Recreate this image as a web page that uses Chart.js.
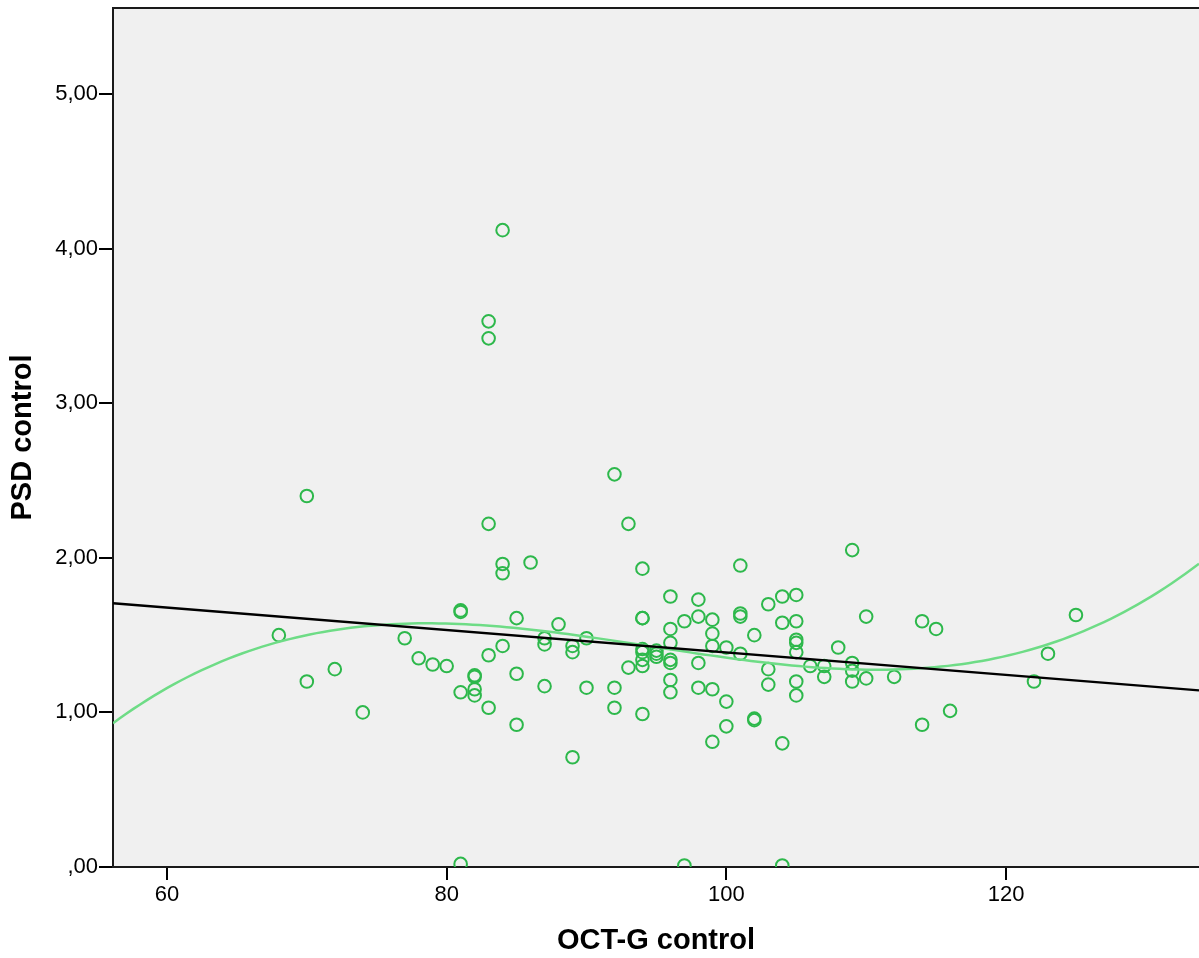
<!DOCTYPE html>
<html>
<head>
<meta charset="utf-8">
<title>PSD control vs OCT-G control</title>
<script src="https://cdn.jsdelivr.net/npm/chart.js@4/dist/chart.umd.min.js"></script>
<style>
  html, body { margin: 0; padding: 0; background: #ffffff; }
  #wrap { width: 1199px; height: 958px; }
</style>
</head>
<body>
<div id="wrap"><canvas id="chart" width="1199" height="958"></canvas></div>
<script>
// Observations: OCT-G control (x) and PSD control (y), paired by index
const octG = [
  68, 70, 70, 72, 74, 77, 78, 79, 80,
  81, 81, 81, 81,
  82, 82, 82, 82,
  83, 83, 83, 83, 83,
  84, 84, 84, 84,
  85, 85, 85,
  86,
  87, 87, 87,
  88,
  89, 89, 89,
  90, 90,
  92, 92, 92,
  93, 93,
  94, 94, 94, 94, 94, 94, 94, 94,
  95, 95, 95,
  96, 96, 96, 96, 96, 96, 96,
  97, 97,
  98, 98, 98, 98,
  99, 99, 99, 99, 99,
  100, 100, 100,
  101, 101, 101, 101,
  102, 102, 102,
  103, 103, 103,
  104, 104, 104, 104,
  105, 105, 105, 105, 105, 105, 105,
  106,
  107, 107,
  108,
  109, 109, 109, 109,
  110, 110,
  112,
  114, 114,
  115,
  116,
  122,
  123,
  125
];
const psd = [
  1.50, 2.40, 1.20, 1.28, 1.00, 1.48, 1.35, 1.31, 1.30,
  1.66, 1.65, 1.13, 0.02,
  1.24, 1.23, 1.15, 1.11,
  3.53, 3.42, 2.22, 1.37, 1.03,
  4.12, 1.96, 1.90, 1.43,
  1.61, 1.25, 0.92,
  1.97,
  1.48, 1.44, 1.17,
  1.57,
  1.43, 1.39, 0.71,
  1.48, 1.16,
  2.54, 1.16, 1.03,
  2.22, 1.29,
  1.93, 1.61, 1.61, 1.41, 1.39, 1.34, 1.30, 0.99,
  1.40, 1.38, 1.36,
  1.75, 1.54, 1.45, 1.34, 1.32, 1.21, 1.13,
  1.59, 0.01,
  1.73, 1.62, 1.32, 1.16,
  1.60, 1.51, 1.43, 1.15, 0.81,
  1.42, 1.07, 0.91,
  1.95, 1.64, 1.62, 1.38,
  1.50, 0.96, 0.95,
  1.70, 1.28, 1.18,
  1.75, 1.58, 0.80, 0.01,
  1.76, 1.59, 1.47, 1.45, 1.39, 1.20, 1.11,
  1.30,
  1.30, 1.23,
  1.42,
  2.05, 1.32, 1.27, 1.20,
  1.62, 1.22,
  1.23,
  1.59, 0.92,
  1.54,
  1.01,
  1.20,
  1.38,
  1.63
];

// Axis ranges and tick marks
const xRange = [56.14, 133.8];
const yRange = [0, 5.557];
const xTicks = [60, 80, 100, 120];
const xTickLabels = ['60', '80', '100', '120'];
const yTicks = [0, 1, 2, 3, 4, 5];
const yTickLabels = [',00', '1,00', '2,00', '3,00', '4,00', '5,00'];

// Fit lines: linear (intercept, slope) and cubic in (x - 100): a, b, c, d
const linearFit = [2.114, -0.00726];
const cubicFit = [1.3543, -0.012487, 0.00028918, 0.000018113];
const cubicCentre = 100;

const scatterPoints = octG.map((x, i) => ({ x: x, y: psd[i] }));
const linearPoints = xRange.map(x => ({ x: x, y: linearFit[0] + linearFit[1] * x }));
const cubicPoints = [];
for (let k = 0; k <= 160; k++) {
  const x = xRange[0] + (xRange[1] - xRange[0]) * k / 160;
  const t = x - cubicCentre;
  cubicPoints.push({ x: x, y: cubicFit[0] + cubicFit[1] * t + cubicFit[2] * t * t + cubicFit[3] * t * t * t });
}

const FONT = "'Liberation Sans', Arial, Helvetica, sans-serif";

// Grey plot background and the top edge of the frame
const plotFrame = {
  id: 'plotFrame',
  beforeDraw(chart) {
    const { ctx, chartArea: a } = chart;
    ctx.save();
    ctx.fillStyle = '#f0f0f0';
    ctx.fillRect(a.left, a.top, a.right - a.left, a.bottom - a.top);
    ctx.restore();
  },
  afterDraw(chart) {
    const { ctx, chartArea: a } = chart;
    ctx.save();
    ctx.strokeStyle = '#1a1a1a';
    ctx.lineWidth = 2;
    ctx.beginPath();
    ctx.moveTo(a.left, a.top);
    ctx.lineTo(a.right, a.top);
    ctx.stroke();
    ctx.restore();
  }
};

// Fixed axis box sizes, with no extra room reserved for edge labels
function fixX(s) {
  s.height = 91;
  s.paddingLeft = 0; s.paddingRight = 0;
}
function fixY(s) {
  s.width = 113;
  s.paddingTop = 0; s.paddingBottom = 0;
}

new Chart(document.getElementById('chart'), {
  type: 'scatter',
  data: {
    datasets: [
      {
        type: 'line',
        label: 'Linear',
        data: linearPoints,
        borderColor: '#000000',
        borderWidth: 2.4,
        pointRadius: 0,
        fill: false,
        order: 0
      },
      {
        type: 'line',
        label: 'Cubic',
        data: cubicPoints,
        borderColor: '#6edc86',
        borderWidth: 2.5,
        pointRadius: 0,
        tension: 0,
        fill: false,
        order: 1
      },
      {
        label: 'PSD control',
        data: scatterPoints,
        pointStyle: 'circle',
        pointRadius: 6.3,
        pointBorderWidth: 2,
        pointBackgroundColor: 'rgba(0,0,0,0)',
        pointBorderColor: '#2db84b',
        clip: 0,
        order: 2
      }
    ]
  },
  plugins: [plotFrame],
  options: {
    responsive: false,
    animation: false,
    events: [],
    layout: { autoPadding: false, padding: { top: 8, right: 0, bottom: 0, left: 0 } },
    plugins: {
      legend: { display: false },
      tooltip: { enabled: false }
    },
    scales: {
      x: {
        type: 'linear',
        min: xRange[0],
        max: xRange[1],
        afterFit: fixX,
        afterBuildTicks: s => { s.ticks = xTicks.map(v => ({ value: v })); },
        ticks: {
          color: '#000',
          font: { family: FONT, size: 22 },
          padding: 2,
          maxRotation: 0,
          callback: (v, i) => xTickLabels[i]
        },
        grid: { drawOnChartArea: false, drawTicks: true, tickLength: 13, color: '#000', lineWidth: 2 },
        border: { display: true, color: '#1a1a1a', width: 2 },
        title: {
          display: true,
          text: 'OCT-G control',
          color: '#000',
          font: { family: FONT, size: 29, weight: 'bold' },
          padding: { top: 0, bottom: 0 }
        }
      },
      y: {
        type: 'linear',
        min: yRange[0],
        max: yRange[1],
        afterFit: fixY,
        afterBuildTicks: s => { s.ticks = yTicks.map(v => ({ value: v })); },
        ticks: {
          color: '#000',
          font: { family: FONT, size: 22 },
          padding: 1,
          callback: (v, i) => yTickLabels[i]
        },
        grid: { drawOnChartArea: false, drawTicks: true, tickLength: 14, color: '#000', lineWidth: 2 },
        border: { display: true, color: '#1a1a1a', width: 2 },
        title: {
          display: true,
          text: 'PSD control',
          color: '#000',
          font: { family: FONT, size: 29, weight: 'bold' },
          padding: { top: 6, bottom: 0 }
        }
      }
    }
  }
});
</script>
</body>
</html>
